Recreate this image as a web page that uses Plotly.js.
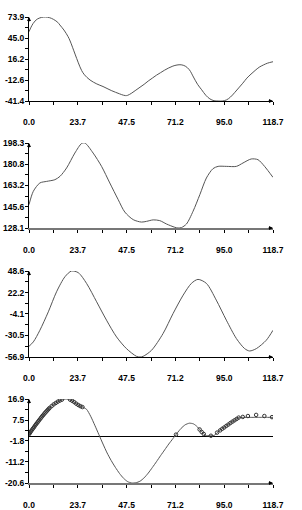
<!DOCTYPE html>
<html>
<head>
<meta charset="utf-8">
<script src="https://cdn.plot.ly/plotly-3.0.1.min.js"></script>
<style>
html,body{margin:0;padding:0;background:#fff;}
#chart{width:302px;height:510px;}
</style>
</head>
<body>
<div id="chart"></div>
<script>
// ---- tick labels ----
const xTickText = ["0.0","23.7","47.5","71.2","95.0","118.7"];
const y1TickText = ["-41.4","-12.6","16.2","45.0","73.9"];
const y2TickText = ["128.1","145.6","163.2","180.8","198.3"];
const y3TickText = ["-56.9","-30.5","-4.1","22.2","48.6"];
const y4TickText = ["-20.6","-11.2","-1.8","7.5","16.9"];

// ---- panel 1 ----
const p1X = [0,1,2,3,4,6,8,10,12,14,15,17,19,20,22.4,24,25.6,27,29.7,33,36,40,44,46,47,48,50,52,54,56,58,60,62,64,66,68,70,72,74,76,78,80,82,84,86,88,90,92,94,96,98,100,102,104,106,108,110,112,114,116,118.7];
const p1Y = [53.7,60,65,68.5,71,73.3,73.9,73,70.5,66.5,63,56,47,41,23,11,0.5,-5.5,-12.6,-18,-21.5,-27,-31.5,-33.5,-34,-33.6,-30.5,-26.5,-22.5,-18.5,-14,-10,-6,-2.5,1,4,6.5,8,8.3,6.5,1.5,-8.5,-18.5,-26,-33.5,-38.5,-41,-41.4,-41.4,-40,-36,-30,-23.5,-17,-10,-4.5,0.5,5,8,10.5,12.5];

// ---- panel 2 ----
const p2X = [0,2.1,5.3,8.6,12.6,15.1,18.3,22.3,25.6,27.2,31.2,35.3,39.3,43.4,46.6,50.7,54.7,57.2,60.4,63.6,66.9,70.9,72.5,74.2,76.6,79.8,83.1,86.3,89.5,92,96,100.9,104.1,108.1,111.4,114.6,118.7];
const p2Y = [147.4,158.4,165.3,166.6,168,170.8,177.7,190,197.9,198.3,190,179,165.3,151.5,141.3,135,133,133.6,134.8,134.2,131.4,128.7,128.1,128.5,131.4,141.9,155.6,169.4,177.1,179,179,179,181.8,185.1,184.5,179,169.9];

// ---- panel 3 ----
const p3X = [0,2.1,5.3,9.4,13.4,17.5,20.7,24,28,32.9,37.7,42.6,47.4,52.3,54,55.5,59.6,65.2,70.1,75,79,82.2,86.3,91.1,96,100.9,104.9,107.3,110.6,115.4,118.7];
const p3Y = [-43.8,-38.4,-24.1,-1.5,23.1,41.6,48.6,46.5,33.4,10.8,-11.7,-32.3,-46.6,-56.1,-56.9,-56.1,-48.7,-28.2,-3.5,19,33.4,38.3,33.4,12.9,-11.7,-34.3,-46.6,-49.5,-46.6,-36.4,-24.1];

// ---- panel 4 (curve) ----
const p4X = [0,2,4,6,8,10,12,14,16,18,20,22,24,26,28,30,32,34,36,38,40,42,44,46,48,50,52,54,56,58,60,62,64,66,68,70,72,74,76,78,80,82,84,86,88,90,92,94,96,98,100,102,104,106,108,110,112,114,116,118.7];
const p4Y = [1.2,3.8,6.3,8.7,10.9,12.9,14.5,15.7,16.6,16.9,16.6,15.5,14.2,13.3,12.3,9.2,5.2,1.0,-3.2,-7.2,-10.6,-13.6,-16.3,-18.5,-20.0,-20.6,-20.5,-19.8,-18.3,-16.2,-13.7,-11.1,-8.4,-5.8,-3.2,-0.8,1.6,3.8,5.4,6.1,5.8,4.4,2.2,0.6,0.5,0.6,2.3,3.6,4.9,6.2,7.4,8.6,8.7,8.7,8.7,8.7,8.7,8.7,8.7,8.7];
// ---- panel 4 (sample points) ----
const p4PtX = [0,0.5,1,1.5,2,2.5,3,3.5,4,4.5,5,5.5,6,6.5,7,7.5,8,8.5,9,9.5,10,11,12,13,14,15,16,20,21,22,23,24,25,26,71.5,83,84,85,88.5,91.5,93,94,95,96,97,98,99,100,101,102,104,106.5,110.5,114.5,118.2];
const p4PtY = [1.2,1.8,2.5,3.2,3.8,4.4,5.1,5.7,6.3,6.9,7.5,8.1,8.7,9.3,9.8,10.4,10.9,11.4,11.9,12.4,12.9,13.7,14.5,15.1,15.7,16.2,16.6,16.6,16.1,15.5,14.8,14.2,13.7,13.3,1.0,3.3,2.2,1.3,0.5,1.9,2.9,3.6,4.2,4.9,5.5,6.2,6.8,7.4,8.0,8.6,8.9,9.3,9.8,9.3,8.8];

const lineStyle = {color:'#555', width:1};
const font = {family:'Liberation Sans, Arial, sans-serif', size:8.5, color:'#000', weight:'bold'};

function mids(vals){const m=[];for(let i=0;i<vals.length-1;i++)m.push((vals[i]+vals[i+1])/2);return m;}

const xTickVals = xTickText.map(Number);
function xAxis(anchor, lc, lw){
  return {
    anchor: anchor, domain:[0,1], range:[0,118.7], tickmode:'array',
    tickvals:xTickVals, ticktext:xTickText, showgrid:false, zeroline:false,
    showline:true, linecolor:lc||'#000', linewidth:lw||1, ticks:'outside', ticklen:3,
    tickcolor:'#000', tickfont:font, ticklabelstandoff:10,
    minor:{tickmode:'array', tickvals:mids(xTickVals), ticks:'outside', ticklen:3, tickcolor:'#000'}
  };
}
function yAxis(anchor, dom, tt, zl){
  const tv = tt.map(Number);
  return {
    anchor: anchor, domain: dom, range:[tv[0], tv[tv.length-1]], tickmode:'array',
    tickvals:tv, ticktext:tt, showgrid:false, zeroline:!!zl, zerolinecolor:'#000', zerolinewidth:1,
    showline:true, linecolor:'#000', linewidth:1, ticks:'outside', ticklen:3,
    tickcolor:'#000', tickfont:font, ticklabelstandoff:-1,
    minor:{tickmode:'array', tickvals:mids(tv), ticks:'outside', ticklen:3, tickcolor:'#000'}
  };
}

const H = 466, B = 483;
function dom(top,bottom){return [(B-bottom)/H,(B-top)/H];}

const data = [
  {x:p1X, y:p1Y, xaxis:'x', yaxis:'y', mode:'lines', line:{...lineStyle, shape:'spline', smoothing:1}, showlegend:false, hoverinfo:'skip'},
  {x:p2X, y:p2Y, xaxis:'x2', yaxis:'y2', mode:'lines', line:{...lineStyle, shape:'spline', smoothing:0.8}, showlegend:false, hoverinfo:'skip'},
  {x:p3X, y:p3Y, xaxis:'x3', yaxis:'y3', mode:'lines', line:{...lineStyle, shape:'spline', smoothing:0.8}, showlegend:false, hoverinfo:'skip'},
  {x:p4X, y:p4Y, xaxis:'x4', yaxis:'y4', mode:'lines', line:{...lineStyle, shape:'spline', smoothing:0.6}, showlegend:false, hoverinfo:'skip'},
  {x:p4PtX, y:p4PtY, xaxis:'x4', yaxis:'y4', mode:'markers', marker:{symbol:'circle-open', size:3.5, color:'#333', line:{width:1}}, showlegend:false, hoverinfo:'skip'}
];

const annotations = [];
['','2','3','4'].forEach(s=>{
  annotations.push({xref:'x'+s+' domain', yref:'y'+s+' domain', x:1, y:0, ax:-6, ay:0, axref:'pixel', ayref:'pixel', text:'', showarrow:true, arrowhead:2, arrowsize:0.8, arrowwidth:1, arrowcolor:'#000'});
  annotations.push({xref:'x'+s+' domain', yref:'y'+s+' domain', x:0, y:1, ax:0, ay:6, axref:'pixel', ayref:'pixel', text:'', showarrow:true, arrowhead:2, arrowsize:0.8, arrowwidth:1, arrowcolor:'#000'});
});

const layout = {
  width:302, height:510,
  margin:{l:29, r:29, t:17, b:27},
  paper_bgcolor:'#fff', plot_bgcolor:'#fff',
  font: font,
  xaxis: xAxis('y'),
  xaxis2: xAxis('y2', '#777', 2),
  xaxis3: xAxis('y3'),
  xaxis4: xAxis('y4', '#777', 2),
  yaxis: yAxis('x', dom(17,101), y1TickText),
  yaxis2: yAxis('x2', dom(143,228), y2TickText),
  yaxis3: yAxis('x3', dom(271,357), y3TickText),
  yaxis4: yAxis('x4', dom(399,483), y4TickText, true),
  annotations: annotations
};

Plotly.newPlot('chart', data, layout, {displayModeBar:false, staticPlot:true});
</script>
</body>
</html>
